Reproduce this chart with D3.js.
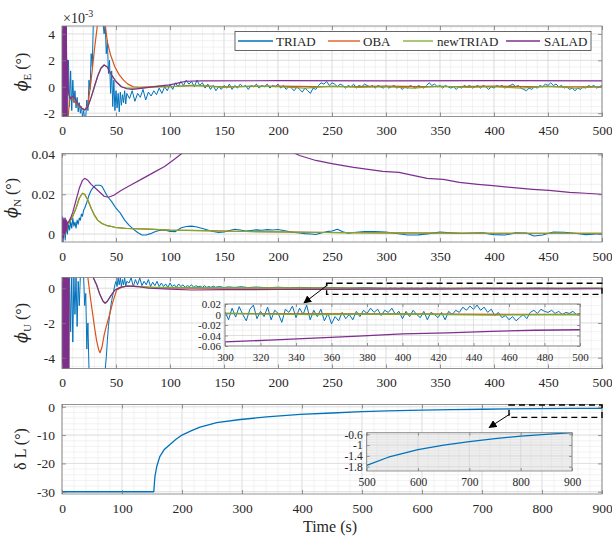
<!DOCTYPE html>
<html><head><meta charset="utf-8">
<script src="https://cdn.jsdelivr.net/npm/d3@7"></script>
<style>body{margin:0;background:#fff}svg{display:block}</style>
</head><body>
<svg id="c" width="612" height="536"></svg>
<script>
// ================= DATA =================
const SERIES = ["TRIAD","OBA","newTRIAD","SALAD"];
const COLORS = ["#0072BD","#D95319","#77AC30","#7E2F8E"];

// ---- Panel 1: phi_E (x1e-3 deg) ----
const E_YTICKS = [-2,0,2,4];
const T500_TICKS = [0,50,100,150,200,250,300,350,400,450,500];
// TRIAD, t = 0..60 step 1
const E_TRIAD_A = [4.8,-2.5,4.8,-2.5,3.6,-2.4,2.0,-1.5,1.2,-1.8,
 0.5,-1.2,-0.3,-1.6,-0.8,-1.9,-1.2,-2.0,-1.5,-2.3,
 -1.8,-2.4,-2.3,-1.0,-1.8,0.5,-0.2,2.5,1.5,4.8,
 4.8,4.8,4.8,4.8,4.8,4.8,4.8,4.8,4.8,4.0,
 4.8,2.5,3.5,1.0,2.0,-0.5,1.2,-1.5,0.5,-1.8,
 -0.3,-1.6,-0.5,-1.9,-0.4,-1.4,-0.6,-1.2,-0.3,-1.3,-0.5];
// TRIAD, t = 62.5..500 step 2.5
const E_TRIAD_B = [-0.9,-0.3,-1.1,-0.5,-0.8,-0.2,-1.0,-0.4,-0.7,-0.3,
 -0.6,-0.1,-0.5,0.0,-0.3,0.2,-0.2,0.3,0.0,0.4,
 0.1,0.5,0.2,0.4,0.0,0.5,0.1,0.3,-0.1,0.2,
 -0.2,0.1,-0.3,0.0,-0.2,0.1,-0.1,0.2,-0.2,0.1,
 -0.1,0.2,0.0,0.1,-0.2,0.1,0.0,0.2,-0.1,0.1,
 0.0,0.2,-0.1,0.1,0.0,0.2,-0.1,0.1,-0.2,0.0,
 -0.1,-0.3,0.0,-0.2,-0.4,-0.1,-0.3,-0.5,-0.1,-0.2,
 0.1,0.3,0.2,0.4,0.1,0.3,0.2,0.0,0.2,0.1,
 -0.1,0.1,0.0,0.2,-0.1,0.1,0.0,0.2,0.1,0.0,
 0.1,-0.1,0.1,0.0,-0.1,0.1,-0.1,0.0,0.1,-0.1,
 0.0,-0.2,0.0,-0.1,0.1,0.0,-0.1,0.1,0.0,-0.1,
 0.1,0.3,0.1,0.2,0.0,0.1,-0.1,0.1,0.0,-0.1,
 0.0,-0.2,0.0,-0.1,0.1,0.0,0.1,-0.1,0.0,0.1,
 -0.1,0.1,0.0,-0.2,0.0,-0.1,0.1,0.0,0.1,-0.1,
 0.0,0.1,0.2,0.0,0.1,-0.1,-0.2,-0.3,-0.1,-0.2,
 0.0,-0.1,0.1,0.0,0.2,0.1,0.3,0.1,0.2,0.0,
 0.1,-0.1,0.0,-0.2,-0.1,-0.3,-0.1,-0.2,0.0,-0.1,
 0.1,0.0,0.1,-0.1,0.0,0.1];
const E_OBA = [[0,5],[0.5,-3],[1,5],[1.5,-3],[2,4],[3,-3],[4,-3],[5,-3],[6,-2.0],[7,-1.0],[8,-0.8],[10,-1.0],[12,-1.2],[15,-1.4],[18,-1.6],[21,-1.75],[24,-1.4],[27,0.5],[30,2.8],[33,4.8],[36,5.5],[38,5.5],[40,4.7],[42,3.4],[45,2.4],[49,1.5],[53,0.9],[57,0.5],[61,0.2],[66,0.0],[72,-0.05],[80,0.0],[90,0.05],[100,0.0],[120,0.1],[150,0.0],[200,0.05],[250,0.0],[300,0.05],[350,0.0],[400,0.05],[450,0.0],[500,0.0]];
const E_SALAD = [[0,5],[0.5,-3],[1,5],[1.5,-3],[2,5],[2.5,-3],[3,5],[3.5,-3],[4,5],[4.5,-3],[5,2],[6,-0.5],[8,-0.9],[10,-0.7],[12,-0.9],[15,-1.3],[18,-1.6],[21,-1.75],[24,-1.5],[27,-0.8],[30,0.0],[33,0.8],[36,1.4],[39,1.65],[42,1.5],[45,1.0],[50,0.4],[55,0.0],[60,-0.15],[65,-0.2],[75,-0.1],[85,0.0],[95,0.1],[100,0.15],[108,0.3],[115,0.42],[130,0.45],[200,0.46],[300,0.45],[400,0.46],[500,0.45]];
const E_NEW = [[0,5],[0.5,-3],[1,5],[1.5,-3],[2,5],[2.5,-3],[3,5],[3.5,-3],[4,5],[4.5,-3],[5,2],[6,-0.5],[8,-0.9],[10,-0.7],[12,-0.9],[15,-1.3],[18,-1.6],[21,-1.75],[24,-1.5],[27,-0.8],[30,0.0],[33,0.8],[36,1.4],[39,1.65],[42,1.5],[45,1.0],[50,0.4],[55,0.0],[60,-0.1],[66,-0.1],[80,-0.05],[100,0.0],[125,0.1],[150,-0.05],[175,0.05],[200,0.0],[225,-0.1],[250,0.05],[275,-0.05],[300,0.0],[325,-0.1],[350,0.05],[375,-0.05],[400,0.0],[425,-0.1],[450,0.05],[475,-0.1],[500,0.0]];

// ---- Panel 2: phi_N (deg) ----
const N_YTICKS = [0,0.02,0.04];
const N_TRIAD_A = [0.009,-0.004,0.008,-0.003,0.006,0.0,0.005,0.002,0.006,0.003,0.008,0.004,0.006,0.003,0.007,0.005,0.008,0.007,0.010,0.009,0.012]; // t=0..20 step 1
const N_TRIAD_B = [[21,0.013],[23,0.016],[25,0.0195],[27,0.022],[29,0.0235],[31,0.0245],[33,0.0245],[35,0.0245],[37,0.024],[39,0.022],[42,0.019],[46,0.0163],[50,0.013],[54,0.0105],[58,0.007],[62,0.0045],[66,0.0025],[70,0.0008],[74,-0.0005],[78,-0.0005],[82,0.0002],[86,0.0012],[90,0.0018],[95,0.002],[100,0.0013],[105,0.0012],[110,0.003],[115,0.0038],[120,0.004],[125,0.0035],[130,0.0028],[135,0.002],[140,0.0013],[145,0.0008],[150,0.001],[155,0.0018],[160,0.0024],[165,0.002],[170,0.0015],[175,0.0018],[180,0.0021],[185,0.0019],[190,0.0022],[195,0.002],[200,0.0023],[205,0.0018],[210,0.0012],[215,0.0008],[220,0.0005],[225,0.0002],[230,0.0],[235,-0.0002],[240,0.0005],[245,0.0012],[250,0.0015],[255,0.0024],[260,0.0012],[265,0.0004],[270,0.0008],[280,0.0012],[290,0.0013],[300,0.001],[310,0.0003],[320,-0.0005],[330,-0.0004],[340,0.0002],[350,0.001],[360,0.0006],[370,0.0003],[380,0.0005],[390,0.0006],[400,-0.0003],[410,-0.0005],[420,0.0006],[430,0.0005],[437,-0.001],[445,-0.0005],[455,0.001],[465,0.0009],[475,0.0004],[485,-0.0003],[495,0.0],[500,0.0]];
const N_NEW = [[0,0.006],[0.5,-0.002],[1,0.006],[1.5,-0.001],[2,0.005],[2.5,0.0],[3,0.006],[3.5,0.001],[4,0.005],[4.5,0.002],[5,0.005],[6,0.005],[8,0.007],[10,0.009],[13,0.013],[16,0.018],[19,0.0205],[21,0.020],[24,0.017],[27,0.013],[30,0.0095],[33,0.007],[37,0.0053],[42,0.0042],[49,0.0034],[60,0.0028],[80,0.0025],[100,0.002],[130,0.0017],[160,0.0014],[200,0.0011],[230,0.0009],[260,0.0007],[300,0.0006],[400,0.0004],[500,0.0004]];
const N_OBA = N_NEW; // OBA coincides with newTRIAD (hidden underneath)
const N_SALAD = [[0,0.008],[0.5,-0.004],[1,0.008],[1.5,-0.002],[2,0.007],[2.5,0.0],[3,0.008],[3.5,0.001],[4,0.007],[4.5,0.002],[5,0.006],[6,0.006],[8,0.008],[10,0.011],[13,0.017],[16,0.023],[19,0.027],[21,0.028],[24,0.027],[27,0.025],[31,0.023],[35,0.021],[39,0.019],[43,0.0185],[48,0.0195],[55,0.022],[65,0.025],[75,0.028],[85,0.031],[95,0.034],[105,0.038],[112,0.041],[130,0.046],[160,0.049],[190,0.046],[214,0.041],[220,0.0395],[235,0.037],[251,0.0353],[270,0.0335],[297,0.0315],[312,0.031],[325,0.0295],[338,0.028],[353,0.0275],[368,0.026],[385,0.025],[399,0.0243],[418,0.0233],[436,0.0225],[451,0.022],[470,0.021],[485,0.0205],[500,0.020]];

// ---- Panel 3: phi_U (deg) ----
const U_YTICKS = [-4,-2,0];
const U_TRIAD_A = [1,-6,1,-6,1,-6,-3.0,0.7,-2.5,0.7,
 -3.1,0.7,-1.5,0.7,-2.2,0.4,-1.0,0.7,0.7,0.7,
 0.7,-1.0,-0.3,-3.5,-2.0,-4.7,-4.7,-4.7,-4.7,-4.7,
 -4.7,-4.7,-4.7,-4.7,-4.7,-4.7,-4.7,-4.7,-4.7,-4.7,
 -4.7,-4.0,-3.0,-2.2,-1.6,-1.1,-0.7,-0.4,-0.1,0.2,
 0.4,0.1,0.6,0.2,0.6,0.1,0.5,0.2,0.6,0.1,0.4]; // t=0..60 step 1
const U_TRIAD_B = [0.3,0.6,0.1,0.5,0.2,0.6,0.15,0.4,0.2,0.5,
 0.1,0.35,0.15,0.4,0.1,0.3,0.1,0.25,0.05,0.3,
 0.1,0.2,0.05,0.25,0.1,0.2,0.05,0.15,0.1,0.2,
 0.05,0.15,0.08,0.12,0.05,0.15,0.05,0.1,0.05,0.12]; // t=62..140 step 2
const U_TRIAD_C = [[142,0.06],[146,0.1],[150,0.04],[154,0.08],[160,0.05],[166,0.09],[172,0.04],[180,0.07],[190,0.03],[200,0.06],[210,0.03],[220,0.05],[235,0.02],[250,0.04],[265,0.01],[280,0.03],[298,0.0]];
const U_TRIAD_D = [0.005,-0.01,0.012,-0.005,0.015,0.0,-0.012,0.01,0.018,-0.008,
 0.006,-0.004,0.014,-0.01,0.008,0.002,-0.015,0.01,0.004,0.016,
 -0.006,0.012,0.0,0.018,-0.01,0.008,-0.004,0.01,-0.012,0.002,
 -0.018,-0.004,-0.012,0.004,-0.008,0.0,-0.01,0.006,-0.004,0.008,
 0.002,0.012,0.004,0.01,-0.002,0.008,0.004,0.012,0.0,0.006,
 -0.008,0.006,-0.004,0.008,0.0,-0.006,0.006,-0.01,0.004,0.0,
 -0.006,0.004,-0.01,0.006,0.0,0.008,0.004,0.014,0.008,0.016,
 0.01,0.018,0.008,0.014,0.004,0.01,-0.002,0.004,-0.006,-0.002,
 -0.01,-0.004,-0.012,-0.006,0.0,-0.008,0.004,0.008,0.002,0.01,
 0.006,0.004,0.008,0.002,0.006,0.0,0.004,0.002,0.006,0.0,0.002]; // t=300..500 step 2
const U_OBA = [[0,1],[0.5,-6],[1,1],[1.5,-6],[2,1],[2.5,-6],[3,1],[3.5,-6],[4,1],[4.5,-6],[5,1],[5.5,1.5],[22,1.5],[24,0.6],[26,-0.4],[28,-1.3],[30,-2.2],[32,-3.0],[34,-3.55],[35.2,-3.71],[37,-3.4],[39,-2.7],[41,-2.2],[44.4,-1.44],[47,-0.8],[50.6,-0.1],[55,0.05],[60,0.12],[66,0.13],[75,0.08],[90,0.02],[120,0.0],[200,0.005],[300,0.002],[400,0.001],[500,0.0]];
const U_SALAD = [[0,1],[0.5,-6],[1,1],[1.5,-6],[2,1],[2.5,-6],[3,1],[3.5,-6],[4,1],[4.5,-6],[5,1],[5.5,-6],[6,1],[6.3,-6],[6.6,1.5],[26,1.5],[29,0.6],[32,0.2],[35,-0.35],[38,-0.75],[40,-0.86],[42,-0.75],[45,-0.45],[49,-0.1],[54,0.05],[60,0.13],[70,0.1],[80,0.0],[100,-0.05],[120,-0.1],[150,-0.08],[200,-0.07],[250,-0.06],[300,-0.052],[325,-0.049],[350,-0.045],[375,-0.041],[400,-0.037],[425,-0.035],[450,-0.032],[475,-0.030],[500,-0.029]];
const U_NEW = [[0,1],[0.5,-6],[1,1],[1.5,-6],[2,1],[2.5,-6],[3,1],[3.5,-6],[4,1],[4.5,-6],[5,1],[5.5,-6],[6,1],[6.3,-6],[6.6,1.5],[26,1.5],[29,0.6],[32,0.2],[35,-0.35],[38,-0.75],[40,-0.86],[42,-0.75],[45,-0.45],[49,-0.1],[54,0.05],[60,0.13],[70,0.1],[80,0.07],[100,0.05],[150,0.03],[200,0.02],[250,0.01],[300,0.002],[350,0.0],[400,0.001],[450,-0.001],[500,0.0]];
const U_INSET_YTICKS = [-0.06,-0.04,-0.02,0,0.02];
const U_INSET_XTICKS = [300,320,340,360,380,400,420,440,460,480,500];

// ---- Panel 4: delta L (deg) ----
const L_YTICKS = [-30,-20,-10,0];
const T900_TICKS = [0,100,200,300,400,500,600,700,800,900];
const L_TRIAD = [[0,-30],[153,-30],[154,-27],[155,-24.5],[158,-21],[163,-17.6],[170,-15.2],[180,-13.3],[190,-11.5],[200,-10],[215,-8.5],[230,-7.2],[258,-5.6],[297,-4.5],[341,-3.6],[397,-2.7],[450,-2.2],[500,-1.75],[542,-1.45],[600,-1.17],[650,-1.0],[700,-0.87],[750,-0.76],[800,-0.67],[850,-0.6],[900,-0.54]];
const L_INSET_YTICKS = [-1.8,-1.4,-1,-0.6];
const L_INSET_XTICKS = [500,600,700,800,900];

// annotations (data coordinates)
const U_ZOOM_BOX = {t:[245,500], v:[-0.35,0.29]};
const U_ARROW = [[246,0.2],[224,-0.85]];
const L_ZOOM_BOX = {t:[745,900], v:[-3.75,0.6]};
const L_ARROW = [[747,-2.5],[712,-7.3]];

// ================= DRAWING =================
const FONT = '"Liberation Serif","Times New Roman",serif';
const AX = '#7b7b7b', TXT = '#262626';
const svg = d3.select('#c').attr('font-family', FONT);
const defs = svg.append('defs');
defs.append('marker').attr('id','ah').attr('viewBox','0 0 10 10').attr('refX',9).attr('refY',5)
  .attr('markerWidth',8).attr('markerHeight',8).attr('markerUnits','userSpaceOnUse').attr('orient','auto')
  .append('path').attr('d','M0,0 L10,5 L0,10 z').attr('fill','#000');

const toPairs = (t0, dt, vals) => vals.map((v,i) => [t0 + i*dt, v]);
let clipN = 0;

function makeAxes(o){
  const x = d3.scaleLinear().domain(o.xd).range([o.l,o.r]);
  const y = d3.scaleLinear().domain(o.yd).range([o.b,o.t]);
  const g = svg.append('g');
  g.append('rect').attr('x',o.l).attr('y',o.t).attr('width',o.r-o.l).attr('height',o.b-o.t).attr('fill',o.bg||'#fff');
  const gm = g.append('g').attr('stroke',o.minorColor||'#ececec').attr('stroke-width',0.7);
  o.xm.forEach(v=>gm.append('line').attr('x1',x(v)).attr('x2',x(v)).attr('y1',o.t).attr('y2',o.b));
  o.ym.forEach(v=>gm.append('line').attr('y1',y(v)).attr('y2',y(v)).attr('x1',o.l).attr('x2',o.r));
  const gj = g.append('g').attr('stroke',o.majorColor||'#d9d9d9').attr('stroke-width',0.7);
  o.xt.forEach(v=>gj.append('line').attr('x1',x(v)).attr('x2',x(v)).attr('y1',o.t).attr('y2',o.b));
  o.yt.forEach(v=>gj.append('line').attr('y1',y(v)).attr('y2',y(v)).attr('x1',o.l).attr('x2',o.r));
  const id = 'clip'+(clipN++);
  defs.append('clipPath').attr('id',id).append('rect').attr('x',o.l).attr('y',o.t).attr('width',o.r-o.l).attr('height',o.b-o.t);
  const plot = g.append('g').attr('clip-path',`url(#${id})`);
  function finish(){
    g.append('rect').attr('x',o.l).attr('y',o.t).attr('width',o.r-o.l).attr('height',o.b-o.t)
      .attr('fill','none').attr('stroke',AX).attr('stroke-width',0.8);
    const fmt = d => String(d), none = () => '';
    const put = (gen, tr) => {
      const a = g.append('g').attr('transform',tr).call(gen);
      a.select('.domain').remove();
      a.selectAll('line').attr('stroke',AX).attr('stroke-width',0.8);
      a.selectAll('text').attr('fill',TXT).attr('font-size',o.fs).attr('font-family',FONT);
    };
    put(d3.axisBottom(x).tickValues(o.xt).tickSizeInner(-o.tl).tickSizeOuter(0).tickPadding(o.xp).tickFormat(fmt), `translate(0,${o.b})`);
    put(d3.axisTop(x).tickValues(o.xt).tickSizeInner(-o.tl).tickSizeOuter(0).tickFormat(none), `translate(0,${o.t})`);
    put(d3.axisLeft(y).tickValues(o.yt).tickSizeInner(-o.tl).tickSizeOuter(0).tickPadding(o.yp).tickFormat(fmt), `translate(${o.l},0)`);
    put(d3.axisRight(y).tickValues(o.yt).tickSizeInner(-o.tl).tickSizeOuter(0).tickFormat(none), `translate(${o.r},0)`);
  }
  return {x,y,g,plot,finish};
}
function line(ax, data, color, w){
  ax.plot.append('path').datum(data)
    .attr('d', d3.line().x(d=>ax.x(d[0])).y(d=>ax.y(d[1])))
    .attr('fill','none').attr('stroke',color).attr('stroke-width',w).attr('stroke-linejoin','round');
}
function ylabel(x, y, main, sub, rest, greekFont){
  const t = svg.append('text').attr('transform',`translate(${x},${y}) rotate(-90)`)
    .attr('text-anchor','middle').attr('font-size',16).attr('fill',TXT);
  const m = t.append('tspan').text(main);
  if (greekFont) m.attr('font-family', greekFont).attr('font-style','italic');
  if (sub) { t.append('tspan').attr('dy',4).attr('font-size',11).text(sub); t.append('tspan').attr('dy',-4).text(rest); }
  else t.append('tspan').text(rest);
}
function zoomAnnot(ax, box, arrow){
  const x0 = ax.x(box.t[0]), x1 = ax.x(box.t[1]), y0 = ax.y(box.v[1]), y1 = ax.y(box.v[0]);
  svg.append('rect').attr('x',x0).attr('y',y0).attr('width',x1-x0).attr('height',y1-y0)
    .attr('fill','none').attr('stroke','#000').attr('stroke-width',1.4).attr('stroke-dasharray','6,4');
  svg.append('line').attr('x1',ax.x(arrow[0][0])).attr('y1',ax.y(arrow[0][1]))
    .attr('x2',ax.x(arrow[1][0])).attr('y2',ax.y(arrow[1][1]))
    .attr('stroke','#000').attr('stroke-width',1).attr('marker-end','url(#ah)');
}

const L = 62, R = 602, FS = 13.5;
const minorRange = (a,b,s) => d3.range(a, b+s/2, s);
const GREEK = '"DejaVu Serif",serif';

// ---------- Panel 1 ----------
const p1 = makeAxes({l:L,r:R,t:26,b:116.5,xd:[0,500],yd:[-2.25,4.6],xt:T500_TICKS,yt:E_YTICKS,
  xm:minorRange(0,500,10),ym:minorRange(-2,4.5,0.5),fs:FS,tl:4,xp:9,yp:7});
const E_TRIAD = toPairs(0,1,E_TRIAD_A).concat(toPairs(62.5,2.5,E_TRIAD_B));
[[E_TRIAD,0,1],[E_OBA,1,1.2],[E_NEW,2,1.2],[E_SALAD,3,1.2]].forEach(([d,i,w])=>line(p1,d,COLORS[i],w));
p1.finish();
ylabel(27,72,'ϕ','E',' (°)',GREEK);
const mult = svg.append('text').attr('x',63).attr('y',23).attr('font-size',14).attr('fill',TXT);
mult.append('tspan').text('×10');
mult.append('tspan').attr('dy',-6).attr('font-size',10).text('-3');

// legend
const leg = svg.append('g');
leg.append('rect').attr('x',235).attr('y',31.5).attr('width',356).attr('height',19)
  .attr('fill','#fff').attr('stroke','#444').attr('stroke-width',0.8);
const legPos = [[238,273,276],[328,360,363],[403,433,437],[506,540,544]];
SERIES.forEach((s,i)=>{
  const [a,b,tx] = legPos[i];
  leg.append('line').attr('x1',a).attr('x2',b).attr('y1',41).attr('y2',41).attr('stroke',COLORS[i]).attr('stroke-width',1.3);
  leg.append('text').attr('x',tx).attr('y',45.5).attr('font-size',13).attr('fill',TXT).text(s);
});

// ---------- Panel 2 ----------
const p2 = makeAxes({l:L,r:R,t:153.5,b:242,xd:[0,500],yd:[-0.004,0.0405],xt:T500_TICKS,yt:N_YTICKS,
  xm:minorRange(0,500,10),ym:minorRange(0,0.04,0.005),fs:FS,tl:4,xp:9,yp:7});
const N_TRIAD = toPairs(0,1,N_TRIAD_A).concat(N_TRIAD_B);
[[N_TRIAD,0,1.1],[N_OBA,1,1.2],[N_NEW,2,1.2],[N_SALAD,3,1.2]].forEach(([d,i,w])=>line(p2,d,COLORS[i],w));
p2.finish();
ylabel(17,198,'ϕ','N',' (°)',GREEK);

// ---------- Panel 3 ----------
const p3 = makeAxes({l:L,r:R,t:277.5,b:368.5,xd:[0,500],yd:[-4.62,0.62],xt:T500_TICKS,yt:U_YTICKS,
  xm:minorRange(0,500,10),ym:minorRange(-4.5,0.5,0.5),fs:FS,tl:4,xp:9,yp:7});
const U_TRIAD = toPairs(0,1,U_TRIAD_A).concat(toPairs(62,2,U_TRIAD_B), U_TRIAD_C, toPairs(300,2,U_TRIAD_D));
const U_ALL = [[U_TRIAD,0,1],[U_OBA,1,1.2],[U_NEW,2,1.2],[U_SALAD,3,1.2]];
U_ALL.forEach(([d,i,w])=>line(p3,d,COLORS[i],w));
p3.finish();
ylabel(27,323,'ϕ','U',' (°)',GREEK);
zoomAnnot(p3, U_ZOOM_BOX, U_ARROW);
// inset
const i3 = makeAxes({l:225,r:580,t:304,b:346,xd:[300,500],yd:[-0.06,0.02],xt:U_INSET_XTICKS,yt:U_INSET_YTICKS,
  xm:minorRange(300,500,5),ym:minorRange(-0.06,0.02,0.01),fs:11,tl:3,xp:7,yp:4});
U_ALL.forEach(([d,i,w])=>line(i3,d.filter(p=>p[0]>=298),COLORS[i],i===0?1:1.3));
i3.finish();

// ---------- Panel 4 ----------
const p4 = makeAxes({l:L,r:R,t:404.5,b:494,xd:[0,900],yd:[-30.8,0.8],xt:T900_TICKS,yt:L_YTICKS,
  xm:minorRange(0,900,20),ym:minorRange(-30,0,2),fs:FS,tl:4,xp:9,yp:7});
line(p4, L_TRIAD, COLORS[0], 1.3);
p4.finish();
ylabel(26,449,'δ L',null,' (°)');
svg.append('text').attr('x',330).attr('y',532).attr('text-anchor','middle').attr('font-size',16).attr('fill',TXT).text('Time (s)');
zoomAnnot(p4, L_ZOOM_BOX, L_ARROW);
const i4 = makeAxes({l:366.7,r:572,t:432.7,b:471,xd:[500,900],yd:[-1.96,-0.54],xt:L_INSET_XTICKS,yt:L_INSET_YTICKS,
  bg:'#efefef',minorColor:'#e2e2e2',majorColor:'#d6d6d6',
  xm:minorRange(500,900,20),ym:minorRange(-1.9,-0.6,0.1),fs:11.5,tl:3,xp:7,yp:4});
line(i4, L_TRIAD.filter(p=>p[0]>=480), COLORS[0], 1.3);
i4.finish();
</script>
</body></html>
